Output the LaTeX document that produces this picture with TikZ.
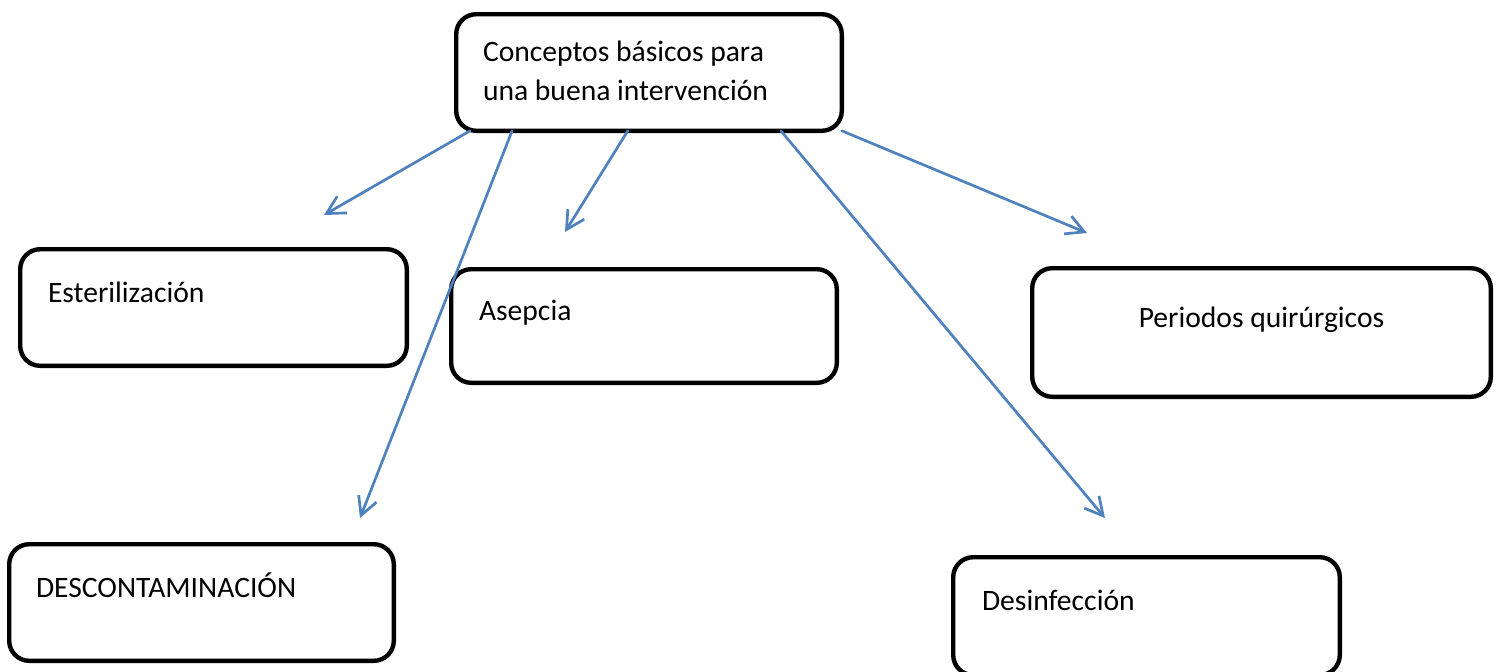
\documentclass[tikz,border=0pt]{standalone}
\usepackage{fontspec}
\setmainfont{Carlito}
\usepackage{tikz}
\usetikzlibrary{arrows.meta,calc}
\definecolor{azulflecha}{HTML}{4F81BD}
\tikzstyle{caja} = [draw=black, line width=2.2pt, rectangle, rounded corners=10pt, outer sep=0pt, inner ysep=0pt, anchor=north west, align=flush left, font=\fontsize{14.8pt}{19.5pt}\selectfont]
\tikzstyle{flecha} = [draw=azulflecha, line width=1.35pt, line cap=round, -{Straight Barb[length=9pt,width=9.6pt]}]

\begin{document}
\begin{tikzpicture}[x=0.5pt,y=-0.5pt]
					\useasboundingbox (0,0) rectangle (1505,671);
					\node [caja, inner xsep=13.4pt, text width=166pt, text height=23.4pt, text depth=34.9pt] (conceptos) at (456.2,14.2) {Conceptos básicos para\\una buena intervención};
					\node [caja, inner xsep=13.9pt, text width=165.5pt, text height=26.4pt, text depth=31.9pt] (esterilizacion) at (20.2,249.2) {Esterilización};
					\node [caja, inner xsep=13.9pt, text width=165pt, text height=25.4pt, text depth=31.4pt] (asepcia) at (451.2,269.2) {Asepcia};
					\node [caja, inner xsep=0pt, align=flush center, text width=229.3pt, text height=29.4pt, text depth=34.9pt] (periodos) at (1032.2,268.2) {Periodos quirúrgicos};
					\node [caja, inner xsep=13.4pt, text width=165.5pt, text height=26.4pt, text depth=31.9pt] (descontaminacion) at (9.2,544.2) {DESCONTAMINACIÓN};
					\node [caja, inner xsep=14.4pt, text width=164.5pt, text height=26.4pt, text depth=32.5pt] (desinfeccion) at (953.2,557.2) {Desinfección};
					\coordinate (puntaEster) at (324,215);
					\coordinate (puntaDescont) at (360,518);
					\coordinate (puntaAsepcia) at (565,232);
					\coordinate (puntaDesinf) at (1105,518);
					\coordinate (puntaPeriodos) at (1087,233);
					\draw [flecha] ($(conceptos.south west)!0.036!(conceptos.south east)$) -- (puntaEster);
					\draw [flecha] ($(conceptos.south west)!0.145!(conceptos.south east)$) -- (puntaDescont);
					\draw [flecha] ($(conceptos.south west)!0.445!(conceptos.south east)$) -- (puntaAsepcia);
					\draw [flecha] ($(conceptos.south west)!0.842!(conceptos.south east)$) -- (puntaDesinf);
					\draw [flecha] ($(conceptos.south west)!1.0!(conceptos.south east)$) -- (puntaPeriodos);
\end{tikzpicture}
\end{document}
